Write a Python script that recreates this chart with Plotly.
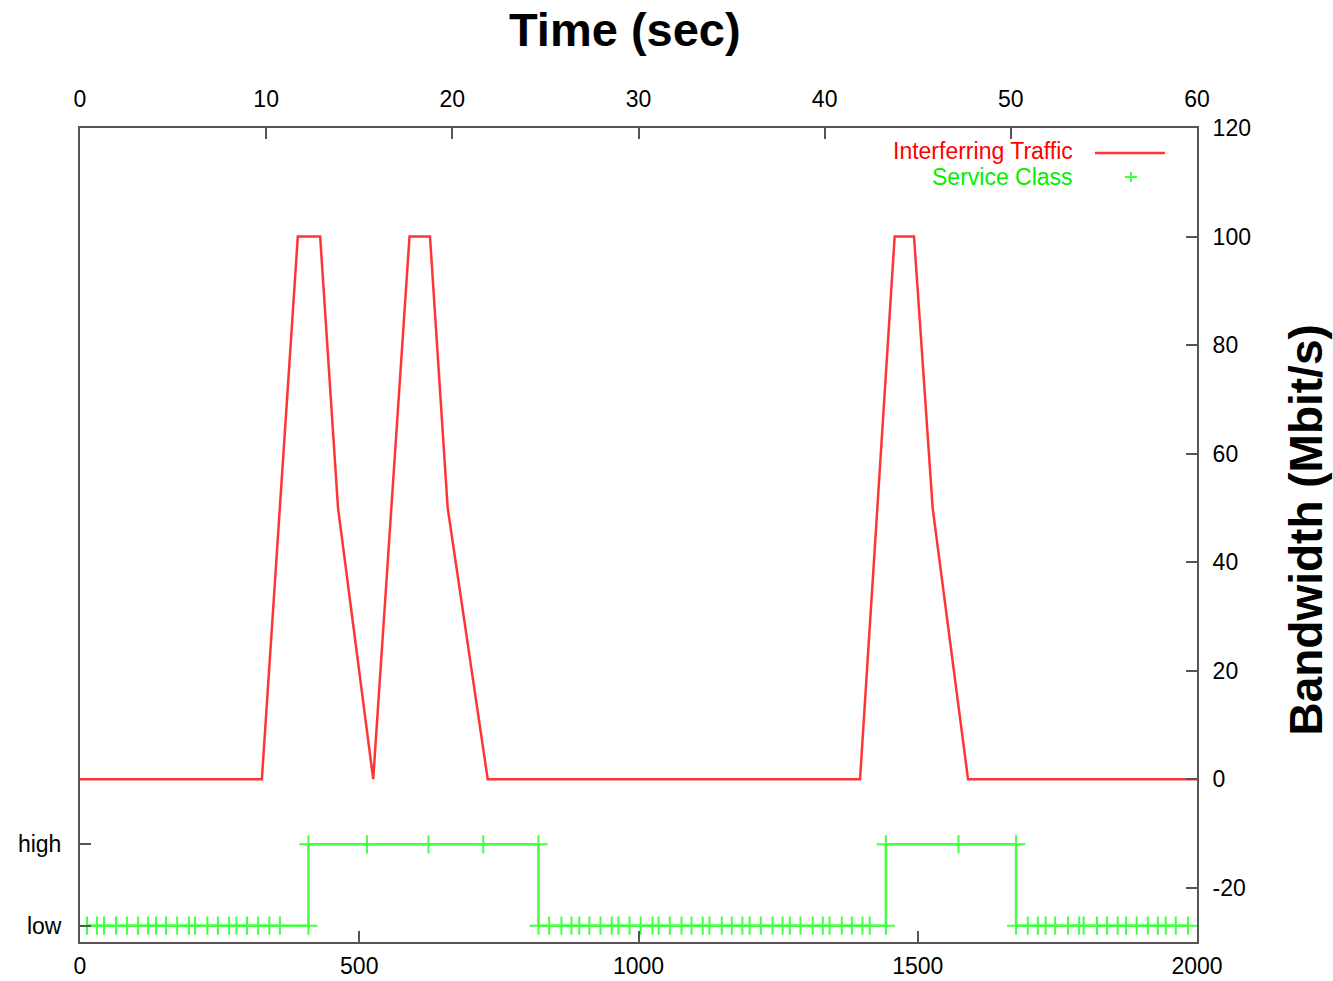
import plotly.graph_objects as go

# Interfering traffic load over time (seconds, top axis) in Mbit/s (right axis)
traffic_time = [0, 9.77, 11.7, 12.9, 13.86, 15.75, 17.7, 18.8, 19.75, 21.9,
                41.9, 43.76, 44.8, 45.8, 47.7, 60]
traffic_bw = [0, 0, 100, 100, 50, 0, 100, 100, 50, 0,
              0, 100, 100, 50, 0, 0]

# Service class decisions (sample index, bottom axis); level on the left axis
HIGH, LOW = -12, -27
class_x = [12.5, 30.5, 43, 64.5, 84, 104, 122, 136, 154, 174, 195, 206, 228, 247,
           267, 280, 299, 319, 339, 358, 409,
           409, 514, 624, 722, 821,
           821, 840, 862, 880, 894, 912, 932, 952, 964, 984, 1004, 1025, 1036,
           1056, 1077, 1095, 1115, 1127, 1149, 1167, 1186, 1199, 1219, 1240,
           1258, 1271, 1290, 1312, 1330, 1342, 1364, 1382, 1401, 1414, 1443,
           1443, 1573, 1676,
           1676, 1697, 1715, 1729, 1746, 1769, 1789, 1797, 1821, 1839, 1858,
           1873, 1892, 1912, 1930, 1944, 1962, 1984]
class_level = ([LOW] * 21 + [HIGH] * 5 + [LOW] * 35 + [HIGH] * 3 + [LOW] * 18)

bottom_ticks = [0, 500, 1000, 1500, 2000]
top_ticks = [0, 10, 20, 30, 40, 50, 60]
right_ticks = [-20, 0, 20, 40, 60, 80, 100, 120]
right_labels = ["-20", "0", "20", "40", "60", "80", "100", "120"]
level_ticks = [HIGH, LOW]
level_labels = ["high", "low"]

RED = "#ff3535"
GREEN = "#45ff45"
AXIS = "#555555"
FONT = "Liberation Sans, Arial, sans-serif"

fig = go.Figure()
# Service class: bottom axis (samples) and left axis (high/low)
fig.add_trace(go.Scatter(
    x=class_x, y=class_level, xaxis="x", yaxis="y",
    mode="lines+markers", line=dict(color=GREEN, width=2.5),
    marker=dict(symbol="cross-thin", size=13, line=dict(color=GREEN, width=2)),
    name="Service Class", showlegend=False))
# Interfering traffic: top axis (seconds) and right axis (Mbit/s)
fig.add_trace(go.Scatter(
    x=traffic_time, y=traffic_bw, xaxis="x2", yaxis="y2",
    mode="lines", line=dict(color=RED, width=2.5),
    name="Interferring Traffic", showlegend=False))

axis_common = dict(showline=True, linecolor=AXIS, linewidth=2, ticks="inside",
                   ticklen=11, tickwidth=2, tickcolor=AXIS, showgrid=False,
                   zeroline=False, automargin=False,
                   tickfont=dict(family=FONT, size=23, color="black"))

fig.update_layout(
    width=1333, height=981,
    margin=dict(l=80, r=136, t=128, b=39),
    paper_bgcolor="white", plot_bgcolor="white",
    xaxis=dict(range=[0, 2000], tickvals=bottom_ticks, side="bottom",
               anchor="y", ticklabelstandoff=2, **axis_common),
    yaxis=dict(range=[-30, 120], tickvals=level_ticks, ticktext=level_labels,
               side="left", anchor="x", ticklabelstandoff=12, **axis_common),
    xaxis2=dict(range=[0, 60], tickvals=top_ticks, side="top",
                overlaying="x", anchor="y2", ticklabelstandoff=10, **axis_common),
    yaxis2=dict(range=[-30, 120], tickvals=right_ticks, ticktext=right_labels,
                side="right", overlaying="y", anchor="x2", ticklabelstandoff=9,
                **axis_common),
    showlegend=False,
)

# Axis titles
fig.add_annotation(text="<b>Time (sec)</b>", xref="paper", yref="paper",
                   x=0.488, y=1.1204, xanchor="center", yanchor="middle",
                   showarrow=False,
                   font=dict(family=FONT, size=47, color="black"))
fig.add_annotation(text="<b>Bandwidth (Mbit/s)</b>", xref="paper", yref="paper",
                   x=1.098, y=0.506, xanchor="center", yanchor="middle",
                   textangle=-90, showarrow=False,
                   font=dict(family=FONT, size=46, color="black"))

# Key, placed in the upper right corner of the plot
fig.add_annotation(text="Interferring Traffic", xref="paper", yref="paper",
                   x=0.8908, y=0.9715, xanchor="right", yanchor="middle",
                   showarrow=False,
                   font=dict(family=FONT, size=23, color="#ff0000"))
fig.add_annotation(text="Service Class", xref="paper", yref="paper",
                   x=0.8908, y=0.9395, xanchor="right", yanchor="middle",
                   showarrow=False,
                   font=dict(family=FONT, size=23, color="#00f000"))
fig.add_shape(type="line", xref="paper", yref="paper",
              x0=0.9087, x1=0.9713, y0=0.9693, y1=0.9693,
              line=dict(color=RED, width=2.5))
fig.add_shape(type="line", xref="paper", yref="paper",
              x0=0.9355, x1=0.9463, y0=0.9398, y1=0.9398,
              line=dict(color=GREEN, width=2))
fig.add_shape(type="line", xref="paper", yref="paper",
              x0=0.9409, x1=0.9409, y0=0.9337, y1=0.9459,
              line=dict(color=GREEN, width=2))

fig.write_html("out.html")
